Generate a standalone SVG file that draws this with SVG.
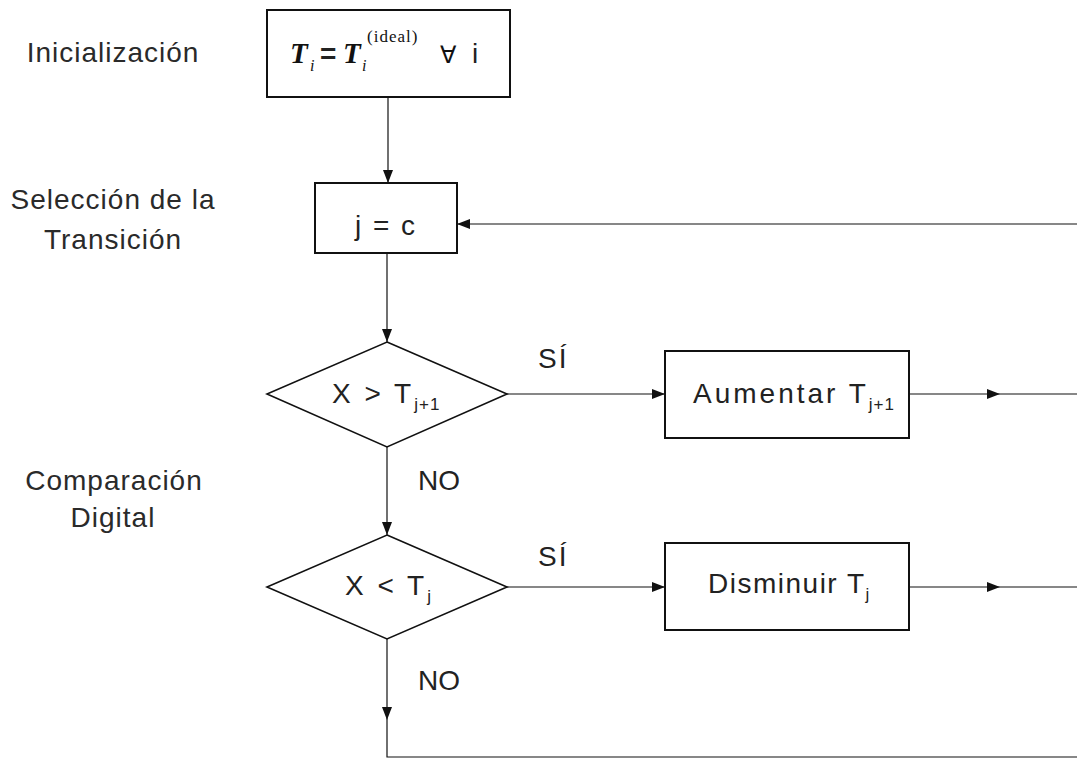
<svg xmlns="http://www.w3.org/2000/svg" width="1077" height="763" viewBox="0 0 1077 763">
<defs>
<style>
.box{fill:#fff;stroke:#111;stroke-width:2}
.dia{fill:#fff;stroke:#111;stroke-width:1.6}
.ln{fill:none;stroke:#111;stroke-width:1.2}
.t{font-family:"Liberation Sans",Arial,sans-serif;font-size:28px;fill:#222}
.lbl{font-family:"Liberation Sans",Arial,sans-serif;font-size:28px;fill:#2a2a2a;letter-spacing:1px;text-anchor:middle}
.sub{font-size:17px}
.ser{font-family:"Liberation Serif","Times New Roman",serif;fill:#111}
</style>
<marker id="ah" markerUnits="userSpaceOnUse" markerWidth="14" markerHeight="10" refX="13" refY="5" orient="auto">
<path d="M0,0 L13,5 L0,10 z" fill="#111"/>
</marker>
</defs>
<rect width="1077" height="763" fill="#fff"/>

<g id="side-labels">
<text class="lbl" x="113" y="62">Inicialización</text>
<text class="lbl" x="113" y="209">Selección de la</text>
<text class="lbl" x="113" y="249">Transición</text>
<text class="lbl" x="114" y="490">Comparación</text>
<text class="lbl" x="113" y="527">Digital</text>
</g>

<g id="connectors">
<path class="ln" d="M388,97 L388,183" marker-end="url(#ah)"/>
<path class="ln" d="M1077,224 L457,224" marker-end="url(#ah)"/>
<path class="ln" d="M387,253 L387,342" marker-end="url(#ah)"/>
<path class="ln" d="M507,394 L665,394" marker-end="url(#ah)"/>
<path class="ln" d="M909,394 L1000,394" marker-end="url(#ah)"/>
<path class="ln" d="M1000,394 L1077,394"/>
<path class="ln" d="M387,447 L387,535" marker-end="url(#ah)"/>
<path class="ln" d="M507,587 L665,587" marker-end="url(#ah)"/>
<path class="ln" d="M909,587 L1000,587" marker-end="url(#ah)"/>
<path class="ln" d="M1000,587 L1077,587"/>
<path class="ln" d="M387,639 L387,720" marker-end="url(#ah)"/>
<path class="ln" d="M387,720 L387,757 L1077,757"/>
<text class="t" x="538" y="368" letter-spacing="2">SÍ</text>
<text class="t" x="418" y="490">NO</text>
<text class="t" x="538" y="566" letter-spacing="2">SÍ</text>
<text class="t" x="418" y="690">NO</text>
</g>

<g id="init">
<rect class="box" x="267" y="10" width="243" height="87"/>
<text class="ser" x="290" y="63" font-size="29" font-style="italic" font-weight="bold">T</text>
<text class="ser" x="310" y="71" font-size="16" font-style="italic">i</text>
<text class="t" x="320" y="63" font-weight="bold">=</text>
<text class="ser" x="343" y="63" font-size="29" font-style="italic" font-weight="bold">T</text>
<text class="ser" x="362" y="71" font-size="16" font-style="italic">i</text>
<text class="ser" x="367" y="42" font-size="17" letter-spacing="1">(ideal)</text>
<text x="440" y="63" font-family="DejaVu Sans,sans-serif" font-size="24" fill="#111">∀</text>
<text class="t" x="472" y="63">i</text>
</g>

<g id="select">
<rect class="box" x="315" y="183" width="142" height="70"/>
<text class="t" x="386" y="235" text-anchor="middle" font-size="30" letter-spacing="2">j = c</text>
</g>

<g id="cmp1">
<polygon class="dia" points="387,342 507,394 387,447 267,394"/>
<text class="t" x="332" y="403" letter-spacing="3">X &gt; T<tspan class="sub" dy="7" letter-spacing="1">j+1</tspan></text>
</g>

<g id="inc">
<rect class="box" x="665" y="351" width="244" height="87"/>
<text class="t" x="693" y="403" letter-spacing="3">Aumentar T<tspan class="sub" dy="7" letter-spacing="1">j+1</tspan></text>
</g>

<g id="cmp2">
<polygon class="dia" points="387,535 507,587 387,639 267,587"/>
<text class="t" x="345" y="595" letter-spacing="3">X &lt; T<tspan class="sub" dy="7">j</tspan></text>
</g>

<g id="dec">
<rect class="box" x="665" y="543" width="244" height="87"/>
<text class="t" x="708" y="593" letter-spacing="1.5">Disminuir T<tspan class="sub" dy="7" letter-spacing="0">j</tspan></text>
</g>
</svg>
